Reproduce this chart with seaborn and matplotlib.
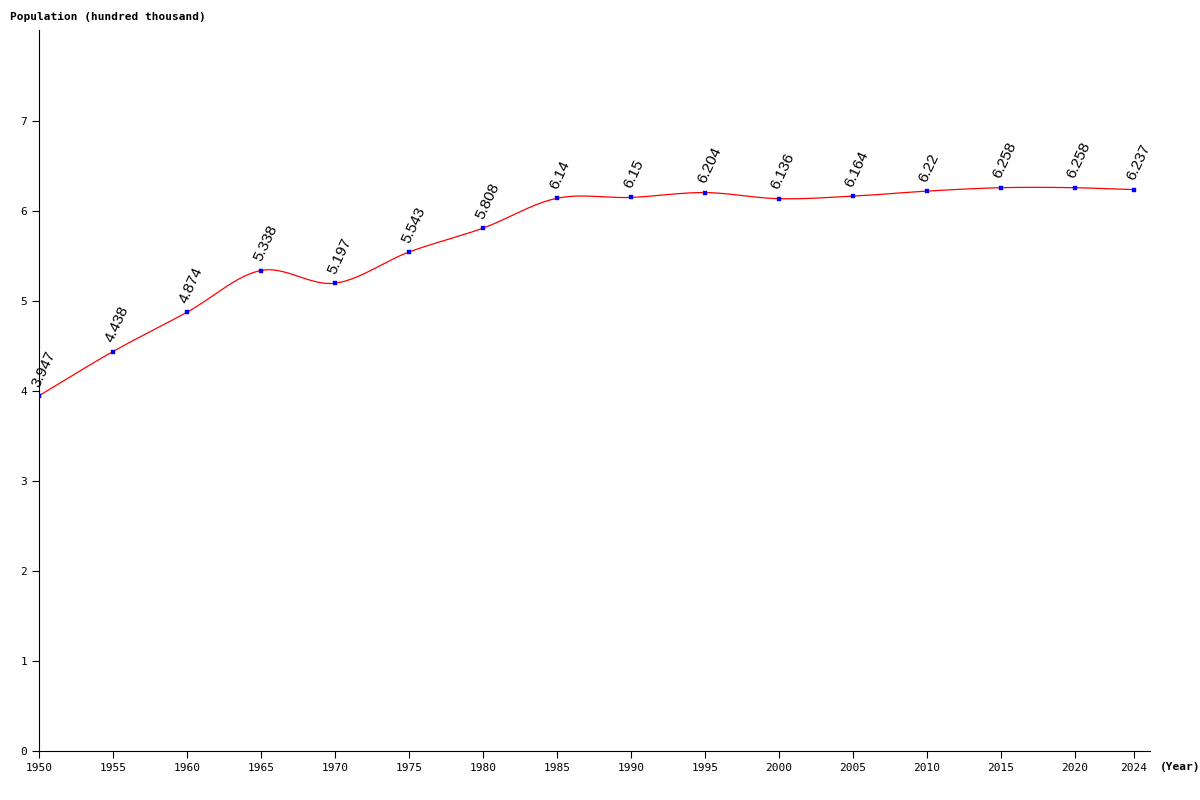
import numpy as np
import matplotlib
matplotlib.use("Agg")
import matplotlib.pyplot as plt
import seaborn as sns

years = [1950,1955,1960,1965,1970,1975,1980,1985,1990,1995,2000,2005,2010,2015,2020,2024]
pop = [3.947,4.438,4.874,5.338,5.197,5.543,5.808,6.14,6.15,6.204,6.136,6.164,6.22,6.258,6.258,6.237]
labels = ["3.947","4.438","4.874","5.338","5.197","5.543","5.808","6.14","6.15","6.204","6.136","6.164","6.22","6.258","6.258","6.237"]

sns.set_style("white")
plt.rcParams['font.family'] = ['DejaVu Sans Mono', 'DejaVu Sans']

fig = plt.figure(figsize=(12, 8), dpi=100)
ax = fig.add_axes([39/1200, 49/800, (1150-39)/1200, (751-30)/800])

# smooth rendering curve (cubic Hermite through the data points)
x = np.array(years, float); y = np.array(pop, float)
m = np.gradient(y, x)
xs, ys = [], []
for i in range(len(x)-1):
    h = x[i+1]-x[i]
    t = np.linspace(0, 1, 30)
    h00 = 2*t**3-3*t**2+1; h10 = t**3-2*t**2+t; h01 = -2*t**3+3*t**2; h11 = t**3-t**2
    xs.append(x[i]+t*h)
    ys.append(h00*y[i]+h10*h*m[i]+h01*y[i+1]+h11*h*m[i+1])
sns.lineplot(x=np.concatenate(xs), y=np.concatenate(ys), ax=ax, color="red", lw=0.9, sort=False)
sns.scatterplot(x=years, y=pop, ax=ax, color="blue", marker="s", s=11, edgecolor="blue", zorder=3)

for xi, yi, lab in zip(years, pop, labels):
    ax.annotate(lab, (xi, yi), xytext=(2, 5), textcoords="offset points",
                rotation=65, fontsize=11, family="Liberation Sans", ha="left", va="bottom",
                rotation_mode="anchor", color="black")

ax.set_xlim(1950, 2025.1)
ax.set_ylim(0, 8.01)
ax.set_xticks(years)
ax.set_xticklabels([str(v) for v in years], fontsize=8, color="black")
ax.set_yticks(range(0, 8))
ax.set_yticklabels([str(v) for v in range(0, 8)], fontsize=8, color="black")
ax.tick_params(axis="both", length=5, direction="out", color="black", left=True, bottom=True)
for s in ["top", "right"]:
    ax.spines[s].set_visible(False)
for s in ["left", "bottom"]:
    ax.spines[s].set_color("black"); ax.spines[s].set_linewidth(0.8)
ax.set_xlabel(""); ax.set_ylabel("")
fig.text(10/1200, 1-17/800, "Population (hundred thousand)", fontsize=8, fontweight="bold", va="center", color="black")
fig.text(1160/1200, 1-767/800, "(Year)", fontsize=8, fontweight="bold", va="center", color="black")
fig.savefig("out.png", dpi=100)
